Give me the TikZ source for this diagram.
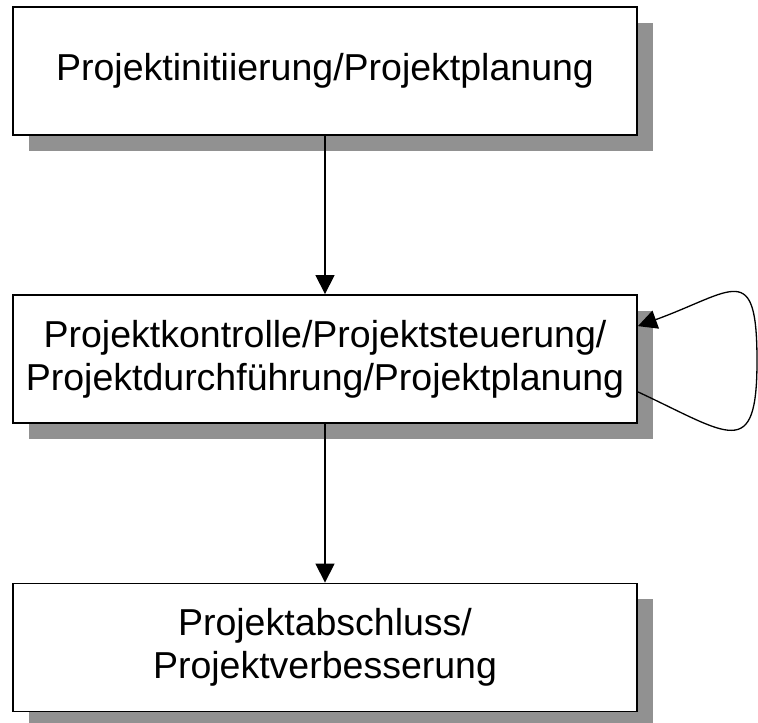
\documentclass[tikz,border=0pt]{standalone}
\usepackage{fontspec}
\setmainfont{Liberation Sans}
\usetikzlibrary{arrows.meta,shadows}
\definecolor{shadowgray}{RGB}{145,145,145}
\begin{document}
\begin{tikzpicture}[x=1pt,y=1pt,
  phase/.style={draw=black,line width=1.8pt,fill=white,minimum width=624pt,minimum height=128pt,
    inner sep=0pt,align=center,font=\fontsize{37.5}{43}\selectfont,
    drop shadow={opacity=1,fill=shadowgray,shadow xshift=16pt,shadow yshift=-16pt}},
  flow/.style={line width=1.3pt,-{Triangle[length=19pt,width=19pt]}}]
\useasboundingbox (0,0) rectangle (758,723);
%
\node[phase] (init) at (325,652) {Projektinitiierung/Projektplanung};
\node[phase] (ctrl) at (325,364) {Projektkontrolle/Projektsteuerung/\\Projektdurchführung/Projektplanung};
\node[phase] (close) at (325,75.5) {Projektabschluss/\\Projektverbesserung};
\coordinate (turn) at (757,362);
%
\draw[flow] (init.south)--(ctrl.north);
\draw[flow] (ctrl.south)--(close.north);
\draw[flow] (ctrl.-6) to[out=-25,in=-90,looseness=2.1] (turn) to[out=90,in=20,looseness=2.1] (ctrl.6);
\end{tikzpicture}
\end{document}
